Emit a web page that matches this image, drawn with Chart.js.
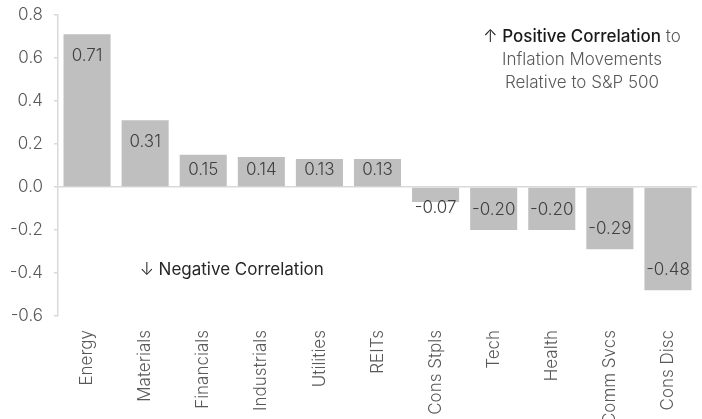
<!DOCTYPE html>
<html><head><meta charset="utf-8">
<script src="https://cdn.jsdelivr.net/npm/chart.js@4/dist/chart.umd.min.js"></script>
<style>html,body{margin:0;padding:0;background:#fff;overflow:hidden}#wrap{width:702px;height:419px;position:relative}</style>
</head><body><div id="wrap"><canvas id="c" width="702" height="419"></canvas></div>
<script>
const categories = ["Energy","Materials","Financials","Industrials","Utilities","REITs","Cons Stpls","Tech","Health","Comm Svcs","Cons Disc"];
const correlations = [0.71,0.31,0.15,0.14,0.13,0.13,-0.07,-0.20,-0.20,-0.29,-0.48];
const yTicks = [0.8,0.6,0.4,0.2,0.0,-0.2,-0.4,-0.6];

const FONT = "Inter, 'Liberation Sans', Arial, sans-serif";
const W = '300';
const FS = 17;

const labelPlugin = {
  id: 'barLabels',
  afterDatasetsDraw(chart) {
    const ctx = chart.ctx;
    const meta = chart.getDatasetMeta(0);
    const y = chart.scales.y;
    const zero = y.getPixelForValue(0);
    ctx.save();
    ctx.font = W + ' ' + FS + 'px ' + FONT;
    ctx.fillStyle = '#404040';
    ctx.textAlign = 'center';
    ctx.textBaseline = 'middle';
    meta.data.forEach((bar, i) => {
      const v = correlations[i];
      let py;
      if (v >= 0) py = Math.min(bar.y + 22, zero - 17);
      else py = Math.max(bar.y - 20, zero + 21);
      ctx.fillText(v.toFixed(2), bar.x, py);
    });
    ctx.restore();
  }
};

const notePlugin = {
  id: 'notes',
  afterDraw(chart) {
    const ctx = chart.ctx;
    const xs = chart.scales.x, ys = chart.scales.y;
    ctx.save();
    ctx.textBaseline = 'middle';
    const cx = xs.getPixelForValue(8.52);
    const y1 = ys.getPixelForValue(0.70);
    const parts = [['↑ ', W, '#262626'], ['Positive Correlation', '500', '#1a1a1a'], [' to', W, '#595959']];
    let total = 0;
    parts.forEach(p => { ctx.font = p[1] + ' ' + FS + 'px ' + FONT; p.w = ctx.measureText(p[0]).width; total += p.w; });
    let x = cx - total / 2;
    ctx.textAlign = 'left';
    parts.forEach(p => { ctx.font = p[1] + ' ' + FS + 'px ' + FONT; ctx.fillStyle = p[2]; ctx.fillText(p[0], x, y1); x += p.w; });
    ctx.textAlign = 'center';
    ctx.font = W + ' ' + FS + 'px ' + FONT;
    ctx.fillStyle = '#595959';
    ctx.fillText('Inflation Movements', cx, y1 + 23);
    ctx.fillText('Relative to S&P 500', cx, y1 + 46);
    const nx = xs.getPixelForValue(2.49);
    const ny = ys.getPixelForValue(-0.387);
    const nparts = [['↓ ', W, '#262626'], ['Negative Correlation', '400', '#262626']];
    total = 0;
    nparts.forEach(p => { ctx.font = p[1] + ' ' + FS + 'px ' + FONT; p.w = ctx.measureText(p[0]).width; total += p.w; });
    x = nx - total / 2;
    ctx.textAlign = 'left';
    nparts.forEach(p => { ctx.font = p[1] + ' ' + FS + 'px ' + FONT; ctx.fillStyle = p[2]; ctx.fillText(p[0], x, ny); x += p.w; });
    ctx.restore();
  }
};

new Chart(document.getElementById('c'), {
  type: 'bar',
  data: {
    labels: categories,
    datasets: [{ data: correlations, backgroundColor: '#BFBFBF', borderWidth: 0, categoryPercentage: 1, barPercentage: 0.81 }]
  },
  options: {
    responsive: false,
    animation: false,
    plugins: { legend: { display: false }, tooltip: { enabled: false } },
    layout: { padding: { top: 15, right: 5, left: 0, bottom: 0 } },
    scales: {
      x: {
        grid: { display: false },
        border: { display: false },
        ticks: { minRotation: 90, maxRotation: 90, autoSkip: false, padding: 6, color: '#595959', font: { size: FS, family: FONT, weight: W } },
        afterFit(s) { s.height = 103; s.paddingLeft = 0; s.paddingRight = 0; }
      },
      y: {
        min: -0.6, max: 0.8,
        afterBuildTicks(s) { s.ticks = yTicks.map(v => ({ value: v })); },
        afterFit(s) { s.width = 58; s.paddingTop = 0; s.paddingBottom = 0; },
        grid: {
          color: c => (c.tick && Math.abs(c.tick.value) < 1e-9) ? '#D9D9D9' : 'rgba(0,0,0,0)',
          tickColor: '#D9D9D9', tickLength: 4, lineWidth: 1.5
        },
        border: { display: true, color: '#D9D9D9', width: 1.5 },
        ticks: { padding: 11, color: '#595959', font: { size: FS, family: FONT, weight: W }, callback: v => Number(v).toFixed(1) }
      }
    }
  },
  plugins: [labelPlugin, notePlugin]
});
</script></body></html>
